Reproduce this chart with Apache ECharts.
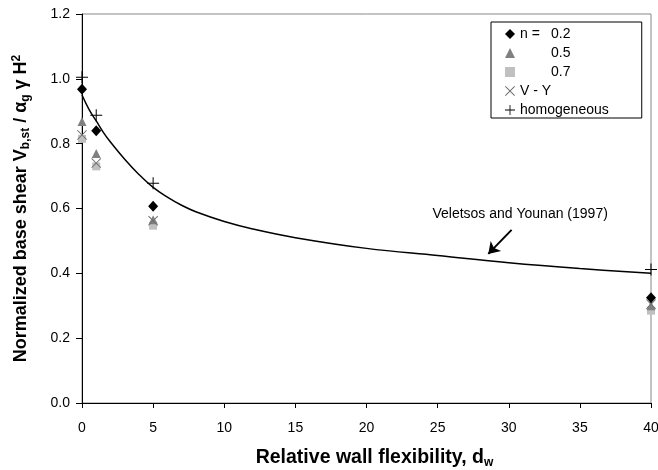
<!DOCTYPE html>
<html><head><meta charset="utf-8">
<script src="https://cdn.jsdelivr.net/npm/echarts@6/dist/echarts.min.js"></script>
<style>html,body{margin:0;padding:0;background:#fff}#c{width:658px;height:470px}</style>
</head><body><div id="c"></div>
<script>
// ---- data ----
var xPoints = [0, 1, 5, 40];
var n02 = [0.968, 0.84, 0.607, 0.325];
var n05 = [0.868, 0.77, 0.565, 0.30];
var n07 = [0.815, 0.73, 0.547, 0.285];
var vy  = [0.827, 0.74, 0.562, 0.305];
var homog = [1.005, 0.888, 0.678, 0.412];
var curveX = [0, 0.5, 1, 1.5, 2, 3, 4, 5, 6, 7, 8, 10, 12, 15, 20, 25, 30, 35, 40];
var curveY = [0.95, 0.905, 0.87, 0.835, 0.805, 0.752, 0.705, 0.665, 0.635, 0.61, 0.59, 0.56, 0.537, 0.51, 0.477, 0.455, 0.433, 0.415, 0.40];
var xTicks = [0, 5, 10, 15, 20, 25, 30, 35, 40];
var yTicks = [0, 0.2, 0.4, 0.6, 0.8, 1.0, 1.2];
var annotation = 'Veletsos and Younan (1997)';

function pairs(xs, ys) { return xs.map(function (x, i) { return [x, ys[i]]; }); }

var FONT = '"Liberation Sans", Arial, sans-serif';
var plusPath = 'path://M-0.5,-6 L0.5,-6 L0.5,-0.5 L6,-0.5 L6,0.5 L0.5,0.5 L0.5,6 L-0.5,6 L-0.5,0.5 L-6,0.5 L-6,-0.5 L-0.5,-0.5 Z';
var crossPath = 'path://M-5,-4.3 L-4.3,-5 L0,-0.7 L4.3,-5 L5,-4.3 L0.7,0 L5,4.3 L4.3,5 L0,0.7 L-4.3,5 L-5,4.3 L-0.7,0 Z';

var chart = echarts.init(document.getElementById('c'), null, {renderer: 'canvas'});
var option = {
  animation: false,
  backgroundColor: '#fff',
  textStyle: {fontFamily: FONT},
  grid: {left: 82, right: 7, top: 14, bottom: 67, containLabel: false, outerBoundsMode: 'none',
    show: true, borderColor: '#888', borderWidth: 1, backgroundColor: '#fff'},
  xAxis: {
    type: 'value', min: xTicks[0], max: xTicks[xTicks.length - 1], interval: xTicks[1] - xTicks[0],
    axisLine: {lineStyle: {color: '#000', width: 1}},
    axisTick: {show: true, length: 5, lineStyle: {color: '#000'}},
    splitLine: {show: false},
    axisLabel: {color: '#000', fontSize: 14, margin: 18, fontFamily: FONT},
    name: '{t|Relative wall flexibility, d}{s|w}',
    nameLocation: 'middle', nameGap: 44,
    nameTextStyle: {
      padding: [0, 0, 0, 16],
      rich: {
        t: {fontSize: 19.5, fontWeight: 'bold', color: '#000', fontFamily: FONT, lineHeight: 22},
        s: {fontSize: 12, fontWeight: 'bold', color: '#000', fontFamily: FONT, verticalAlign: 'bottom', lineHeight: 15}
      }
    }
  },
  yAxis: {
    type: 'value', min: yTicks[0], max: yTicks[yTicks.length - 1], interval: 0.2,
    axisLine: {show: true, lineStyle: {color: '#000', width: 1}},
    axisTick: {show: true, length: 6, lineStyle: {color: '#000'}},
    splitLine: {show: false},
    axisLabel: {color: '#000', fontSize: 14, margin: 12, fontFamily: FONT, formatter: function (v) { return v.toFixed(1); }},
    name: '{t|Normalized base shear V}{s|b,st}{t| / α}{s|g}{t| γ H}{p|2}',
    nameLocation: 'middle', nameGap: 50, nameRotate: 90,
    nameTextStyle: {
      rich: {
        t: {fontSize: 18, fontWeight: 'bold', color: '#000', fontFamily: FONT, lineHeight: 21},
        s: {fontSize: 12, fontWeight: 'bold', color: '#000', fontFamily: FONT, verticalAlign: 'bottom', lineHeight: 15},
        p: {fontSize: 12, fontWeight: 'bold', color: '#000', fontFamily: FONT, verticalAlign: 'top', lineHeight: 15}
      }
    }
  },
  legend: {
    orient: 'vertical', left: 491, top: 22,
    backgroundColor: '#fff', borderColor: '#000', borderWidth: 1,
    padding: [4, 33, 0, 14], itemGap: 3, itemWidth: 10, itemHeight: 10, itemTextGap: 6,
    textStyle: {fontSize: 14, color: '#000', fontFamily: FONT, lineHeight: 16,
      rich: {a: {width: 31, fontSize: 14, fontFamily: FONT, color: '#000'}}},
    formatter: function (name) {
      if (name === 'n = 0.2') return '{a|n =}0.2';
      if (name === '0.5') return '{a|}0.5';
      if (name === '0.7') return '{a|}0.7';
      return name;
    },
    data: [
      {name: 'n = 0.2', icon: 'diamond'},
      {name: '0.5', icon: 'triangle'},
      {name: '0.7', icon: 'rect'},
      {name: 'V - Y', icon: crossPath},
      {name: 'homogeneous', icon: plusPath}
    ]
  },
  series: [
    {
      name: 'curve', type: 'line', data: pairs(curveX, curveY), smooth: 0.4, showSymbol: false, symbol: 'none',
      lineStyle: {color: '#000', width: 1.5}, z: 2, silent: true,
      markLine: {
        silent: true, symbolSize: 11,
        lineStyle: {color: '#000', width: 2, type: 'solid'},
        label: {show: false},
        data: [[{coord: [30.2, 0.534], symbol: 'none'}, {coord: [28.56, 0.46], symbol: 'arrow'}]]
      },
      markPoint: {
        silent: true, symbol: 'circle', symbolSize: 0,
        label: {show: true, position: 'inside', formatter: annotation, color: '#000', fontSize: 14, fontFamily: FONT},
        data: [{coord: [30.8, 0.583]}]
      }
    },
    {name: 'n = 0.2', type: 'scatter', data: pairs(xPoints, n02), symbol: 'diamond', symbolSize: [10, 11], itemStyle: {color: '#000', opacity: 1}, z: 6},
    {name: '0.5', type: 'scatter', data: pairs(xPoints, n05), symbol: 'triangle', symbolSize: [9, 9], itemStyle: {color: '#808080', opacity: 1}, z: 4},
    {name: '0.7', type: 'scatter', data: pairs(xPoints, n07), symbol: 'rect', symbolSize: 8, itemStyle: {color: '#c0c0c0', opacity: 1}, z: 3},
    {name: 'V - Y', type: 'scatter', data: pairs(xPoints, vy), symbol: crossPath, symbolSize: 10, itemStyle: {color: '#707070', opacity: 1}, z: 5},
    {name: 'homogeneous', type: 'scatter', data: pairs(xPoints, homog), symbol: plusPath, symbolSize: 12, itemStyle: {color: '#000', opacity: 1}, z: 7}
  ]
};
chart.setOption(option);
</script></body></html>
